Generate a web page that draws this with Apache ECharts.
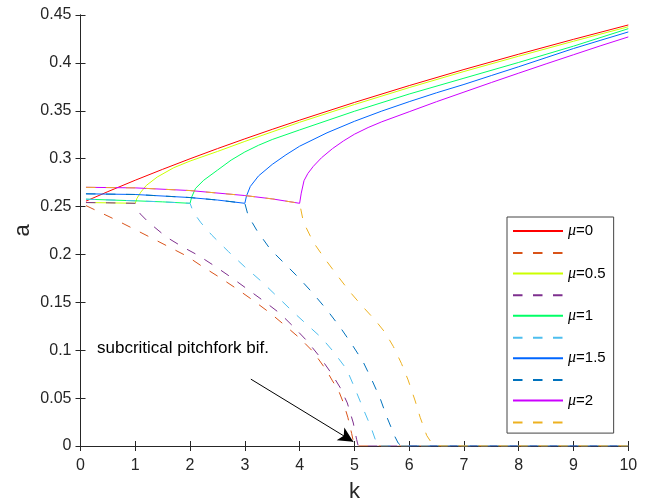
<!DOCTYPE html>
<html><head><meta charset="utf-8">
<script src="https://cdn.jsdelivr.net/npm/echarts@6/dist/echarts.min.js"></script>
<style>html,body{margin:0;padding:0;background:#fff}#c{width:648px;height:501px}</style>
</head><body><div id="c"></div>
<script>
// ---- data ----
const muLabels = ['0', '0.5', '1', '1.5', '2'];
const xTicks = [0, 1, 2, 3, 4, 5, 6, 7, 8, 9, 10];
const yTicks = [0, 0.05, 0.1, 0.15, 0.2, 0.25, 0.3, 0.35, 0.4, 0.45];

// stable branches (solid)
const kS0  = [0.1, 0.5, 1, 1.5, 2, 2.5, 3, 3.5, 4, 5, 6, 7, 8, 9, 10];
const aS0  = [0.2557, 0.2656, 0.2775, 0.2889, 0.2999, 0.3105, 0.3207, 0.3306, 0.3402, 0.3587, 0.3763, 0.3931, 0.4091, 0.4246, 0.4396];
const kS05 = [0.1, 0.5, 1, 1.03, 1.1, 1.2, 1.4, 1.7, 2, 2.5, 3, 4, 5, 6, 7, 8, 9, 10];
const aS05 = [0.2542, 0.2539, 0.2534, 0.2585, 0.2650, 0.2720, 0.2808, 0.2905, 0.2975, 0.3075, 0.3180, 0.3380, 0.3565, 0.3742, 0.3910, 0.4070, 0.4226, 0.4377];
const kS1  = [0.1, 1, 1.5, 2, 2.03, 2.1, 2.25, 2.5, 2.75, 3, 3.25, 3.5, 4, 5, 6, 7, 8, 9, 10];
const aS1  = [0.2577, 0.2560, 0.2549, 0.2534, 0.2600, 0.2690, 0.2775, 0.2880, 0.2985, 0.3070, 0.3140, 0.3200, 0.3300, 0.3495, 0.3675, 0.3840, 0.4005, 0.4175, 0.4357];
const kS15 = [0.1, 1, 2, 2.5, 3, 3.03, 3.1, 3.25, 3.5, 3.75, 4, 4.5, 5, 5.5, 6, 6.5, 7, 7.5, 8, 8.5, 9, 9.5, 10];
const aS15 = [0.2633, 0.2626, 0.2594, 0.2568, 0.2534, 0.2610, 0.2710, 0.2820, 0.2940, 0.3040, 0.3130, 0.3270, 0.3390, 0.3497, 0.3595, 0.3688, 0.3775, 0.3868, 0.3960, 0.4055, 0.4150, 0.4237, 0.4323];
const kS2  = [0.1, 1, 2, 3, 3.5, 4, 4.03, 4.08, 4.15, 4.25, 4.4, 4.6, 4.8, 5, 5.25, 5.5, 6, 6.5, 7, 7.5, 8, 8.5, 9, 9.5, 10];
const aS2  = [0.2701, 0.2695, 0.2667, 0.2615, 0.2580, 0.2534, 0.2640, 0.2770, 0.2845, 0.2920, 0.3010, 0.3105, 0.3185, 0.3255, 0.3325, 0.3385, 0.3490, 0.3595, 0.3695, 0.3795, 0.3893, 0.3990, 0.4085, 0.4180, 0.4271];

// unstable branches (dashed)
const kD0  = [0.1, 0.63, 0.96, 1.27, 1.6, 1.94, 2.24, 2.55, 2.85, 3.15, 3.46, 3.73, 4.01, 4.25, 4.49, 4.6, 4.71, 4.8, 4.88, 4.95, 4.98, 5.0, 10];
const aD0  = [0.2510, 0.2365, 0.2270, 0.2180, 0.2083, 0.1983, 0.1868, 0.1757, 0.1642, 0.1521, 0.1389, 0.1260, 0.1122, 0.0983, 0.0790, 0.0680, 0.0580, 0.0450, 0.0300, 0.0130, 0.0050, 0, 0];
const kD05 = [0.1, 0.5, 1, 1.09, 1.24, 1.57, 1.85, 2.15, 2.46, 2.76, 3.06, 3.37, 3.64, 3.88, 4.13, 4.37, 4.59, 4.74, 4.87, 4.98, 5.04, 5.07, 10];
const aD05 = [0.2542, 0.2539, 0.2534, 0.2424, 0.2337, 0.2181, 0.2083, 0.1990, 0.1875, 0.1757, 0.1632, 0.1503, 0.1385, 0.1250, 0.1100, 0.0930, 0.0750, 0.0610, 0.0450, 0.0240, 0.0070, 0, 0];
const kD1  = [0.1, 1, 1.5, 2, 2.06, 2.2, 2.4, 2.7, 3.0, 3.3, 3.61, 3.88, 4.13, 4.4, 4.61, 4.86, 5.01, 5.16, 5.3, 5.38, 5.42, 10];
const aD1  = [0.2577, 0.2560, 0.2549, 0.2534, 0.2441, 0.2330, 0.2200, 0.2030, 0.1870, 0.1720, 0.1550, 0.1400, 0.1270, 0.1130, 0.0990, 0.0800, 0.0600, 0.0390, 0.0200, 0.0070, 0, 0];
const kD15 = [0.1, 1, 2, 2.5, 3, 3.06, 3.22, 3.47, 3.73, 4.0, 4.25, 4.5, 4.74, 4.95, 5.16, 5.32, 5.47, 5.59, 5.74, 5.8, 5.86, 10];
const aD15 = [0.2633, 0.2626, 0.2594, 0.2568, 0.2534, 0.2406, 0.2250, 0.2050, 0.1903, 0.1747, 0.1590, 0.1420, 0.1240, 0.1065, 0.0878, 0.0688, 0.0497, 0.0306, 0.0097, 0.0030, 0, 0];
const kD2  = [0.1, 1, 2, 3, 3.5, 4, 4.07, 4.25, 4.46, 4.71, 4.92, 5.13, 5.38, 5.56, 5.71, 5.86, 5.98, 6.11, 6.2, 6.32, 6.4, 6.45, 10];
const aD2  = [0.2701, 0.2695, 0.2667, 0.2615, 0.2580, 0.2534, 0.2337, 0.2128, 0.1955, 0.1764, 0.1608, 0.1469, 0.1313, 0.1185, 0.1040, 0.0860, 0.0690, 0.0470, 0.0300, 0.0110, 0.0040, 0, 0];

// annotation
const annotText = 'subcritical pitchfork bif.';
const arrowK = [3.11, 4.98];
const arrowA = [0.0698, 0.0045];

// ---- styles ----
const solidColors = ['#FF0000', '#CCFF00', '#00FF66', '#0066FF', '#CC00FF'];
const dashColors  = ['#D95319', '#7E2F8E', '#4DBEEE', '#0072BD', '#EDB120'];
const solidK = [kS0, kS05, kS1, kS15, kS2], solidA = [aS0, aS05, aS1, aS15, aS2];
const dashK = [kD0, kD05, kD1, kD15, kD2], dashA = [aD0, aD05, aD1, aD15, aD2];
const zip = (k, a) => k.map((v, i) => [v, a[i]]);
const FONT = 'Liberation Sans, Arial, Helvetica, sans-serif';
const AXC = '#262626';
const DASH = [9.5, 10.5];

const series = [];
const legendNames = [];
muLabels.forEach((m, i) => {
  const sName = 's' + i, dName = 'd' + i;
  legendNames.push(sName, dName);
  series.push({
    name: sName, type: 'line', data: zip(solidK[i], solidA[i]),
    showSymbol: false, symbol: 'none', smooth: false,
    lineStyle: { color: solidColors[i], width: 1 }, itemStyle: { color: solidColors[i] }
  });
  series.push({
    name: dName, type: 'line', data: zip(dashK[i], dashA[i]),
    showSymbol: false, symbol: 'none', smooth: false,
    lineStyle: { color: dashColors[i], width: 1, type: DASH }, itemStyle: { color: dashColors[i] }
  });
});
series.push({
  name: 'arrow', type: 'line', data: [], silent: true,
  markLine: {
    silent: true, animation: false, symbol: ['none', 'arrow'], symbolSize: [11, 15],
    label: { show: false },
    lineStyle: { color: '#000', width: 1, type: 'solid' },
    data: [[{ coord: [arrowK[0], arrowA[0]] }, { coord: [arrowK[1], arrowA[1]] }]]
  }
});

const chart = echarts.init(document.getElementById('c'), null, { renderer: 'canvas' });
const axisCommon = {
  axisLine: { show: true, lineStyle: { color: AXC, width: 1 } },
  axisTick: { show: true, inside: true, length: 5, lineStyle: { color: AXC } },
  splitLine: { show: false }
};
chart.setOption({
  animation: false,
  backgroundColor: '#fff',
  grid: { left: 80.5, right: 19.7, top: 15, bottom: 55, containLabel: false, outerBoundsMode: 'none' },
  xAxis: [
    Object.assign({
      type: 'value', min: 0, max: 10, interval: 1, position: 'bottom',
      name: 'k', nameLocation: 'middle', nameGap: 35, nameMoveOverlap: false,
      nameTextStyle: { fontFamily: FONT, fontSize: 22, color: AXC },
      axisLabel: { fontFamily: FONT, fontSize: 16, color: AXC, margin: 12,
        formatter: v => xTicks.includes(v) ? String(v) : '' }
    }, axisCommon),
    Object.assign({
      type: 'value', min: 0, max: 10, interval: 1, position: 'top',
      axisLabel: { show: false }
    }, axisCommon)
  ],
  yAxis: [
    Object.assign({
      type: 'value', min: 0, max: 0.45, interval: 0.05, position: 'left',
      name: 'a', nameLocation: 'middle', nameGap: 47, nameRotate: 90, nameMoveOverlap: false,
      nameTextStyle: { fontFamily: FONT, fontSize: 22, color: AXC },
      axisLabel: { fontFamily: FONT, fontSize: 16, color: AXC, margin: 9,
        formatter: v => { const t = yTicks.find(y => Math.abs(y - v) < 1e-9); return t === undefined ? '' : String(t); } }
    }, axisCommon),
    Object.assign({
      type: 'value', min: 0, max: 0.45, interval: 0.05, position: 'right',
      axisLabel: { show: false }
    }, axisCommon)
  ],
  legend: {
    data: legendNames, orient: 'vertical', left: 507, top: 217,
    itemWidth: 50, itemHeight: 14, itemGap: 6.9,
    padding: [6, 8, 5, 5],
    backgroundColor: '#fff', borderColor: '#444', borderWidth: 1, borderRadius: 0,
    selectedMode: false,
    itemStyle: { opacity: 0, borderWidth: 0 },
    formatter: n => n[0] === 's' ? '{i|μ}=' + muLabels[+n.slice(1)] : '',
    textStyle: { fontFamily: FONT, fontSize: 15, color: '#000',
      rich: { i: { fontFamily: 'Liberation Serif, DejaVu Serif, serif', fontStyle: 'italic', fontSize: 16, color: '#000' } } }
  },
  graphic: [{
    type: 'text', left: 97, top: 340, silent: true,
    style: { text: annotText, fill: '#000', font: '17px ' + FONT }
  }],
  series: series
});
</script></body></html>
